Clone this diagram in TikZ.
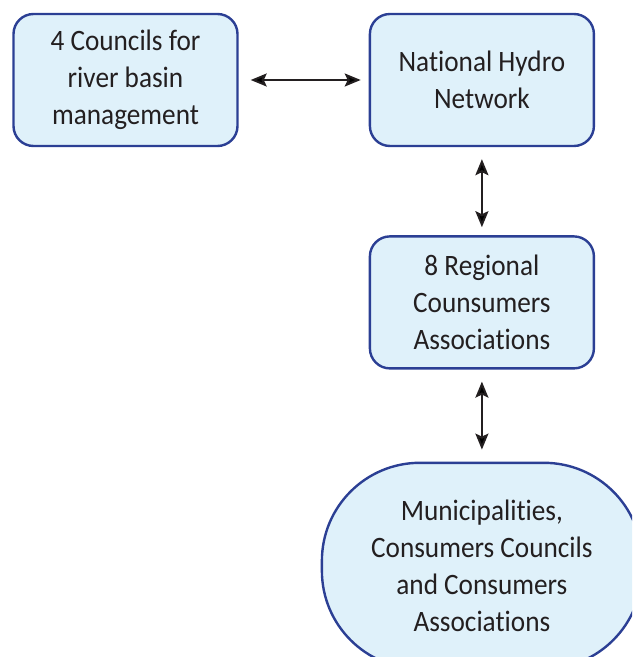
\documentclass[tikz,border=0pt]{standalone}
\usepackage{fontspec}
\setmainfont{Carlito}[FakeStretch=0.92, Ligatures=NoCommon]
\usetikzlibrary{positioning,arrows.meta}

\definecolor{boxfill}{HTML}{DFF1FA}
\definecolor{boxline}{HTML}{2B3F94}
\definecolor{ink}{HTML}{231F20}

\tikzset{
    body/.style={draw=boxline, fill=boxfill, line width=1.2pt, rounded corners=10pt,
        minimum width=112pt, minimum height=66pt, align=center, text=ink,
        font=\fontsize{14.8}{18.5}\selectfont},
}

\begin{document}
\begin{tikzpicture}[>={Stealth[length=8pt,width=6.5pt,inset=1.5pt]}, node distance=44pt and 65pt]
    \clip (0,0) rectangle (316pt,-328.5pt);

    \node[body] (basin) at (62.75pt,-40pt) {4 Councils for\\river basin\\management};
    \node[body] (hydro) [right=of basin] {National Hydro\\Network};
    \node[body] (regional) [below=of hydro] {8 Regional\\Counsumers\\Associations};
    \node[body, minimum width=160pt, minimum height=103pt, rounded corners=49pt] (local)
        [below=46pt of regional] {Municipalities,\\Consumers Councils\\and Consumers\\Associations};

    \path[<->, line width=1pt, draw=ink, shorten <=6pt, shorten >=4pt]
        (basin) edge (hydro)
        (hydro) edge (regional)
        (regional) edge[shorten >=6pt] (local);
\end{tikzpicture}
\end{document}
